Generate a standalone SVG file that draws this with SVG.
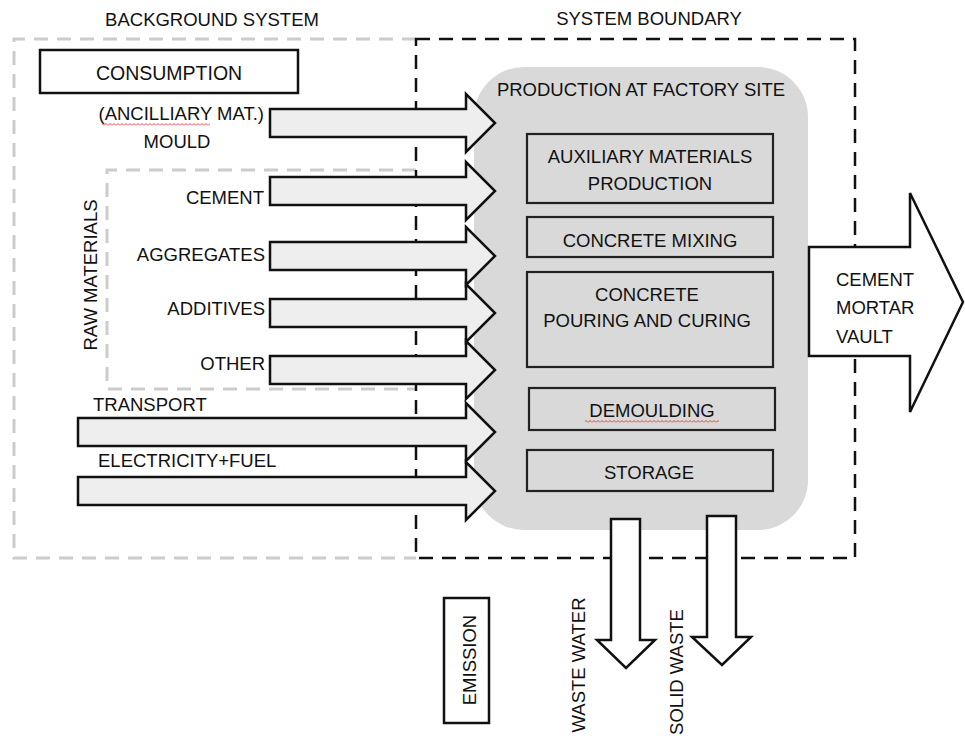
<svg xmlns="http://www.w3.org/2000/svg" width="965" height="736" viewBox="0 0 965 736">
<style>
text{font-family:"Liberation Sans",Arial,sans-serif;font-size:18.5px;fill:#111}
.c{text-anchor:middle}.e{text-anchor:end}
.gd{fill:none;stroke:#cccccc;stroke-width:3;stroke-dasharray:14 9}
.bd{fill:none;stroke:#111;stroke-width:2.5;stroke-dasharray:14 9}
.box{fill:#d9d9d9;stroke:#222;stroke-width:2.2}
.in{fill:#eeeeee;stroke:#111;stroke-width:2.5;stroke-linejoin:miter}
.out{fill:#fff;stroke:#111;stroke-width:2.5}
</style>
<defs>
<pattern id="squig" width="4" height="3" patternUnits="userSpaceOnUse"><path d="M0,2.5 L2,0.5 L4,2.5" stroke="#e03030" fill="none" stroke-width="0.9"/></pattern>
</defs>
<rect width="965" height="736" fill="#fff"/>
<g id="boundaries">
<path class="gd" d="M416,39 H14 V558 H416"/>
<path class="gd" d="M416,170 H107 V389 H416"/>
<rect class="bd" x="416" y="39" width="439" height="519"/>
<text class="c" x="212" y="26">BACKGROUND SYSTEM</text>
<text class="c" x="649" y="25">SYSTEM BOUNDARY</text>
<text class="c" transform="translate(97,275) rotate(-90)">RAW MATERIALS</text>
</g>
<g id="consumption">
<rect x="40" y="50" width="258" height="43" fill="#fff" stroke="#111" stroke-width="2.5"/>
<text class="c" x="169" y="80" style="font-size:19.5px">CONSUMPTION</text>
</g>
<g id="production">
<rect x="474" y="67" width="334" height="463" rx="50" fill="#d9d9d9"/>
<text class="c" x="641" y="96">PRODUCTION AT FACTORY SITE</text>
</g>
<g id="aux">
<rect class="box" x="527" y="134" width="246" height="69"/>
<text class="c" x="650" y="163">AUXILIARY MATERIALS</text>
<text class="c" x="650" y="190">PRODUCTION</text>
</g>
<g id="mixing">
<rect class="box" x="527" y="217" width="246" height="40"/>
<text class="c" x="650" y="247">CONCRETE MIXING</text>
</g>
<g id="pouring">
<rect class="box" x="527" y="272" width="246" height="95"/>
<text class="c" x="647" y="301">CONCRETE</text>
<text class="c" x="647" y="327">POURING AND CURING</text>
</g>
<g id="demoulding">
<rect class="box" x="529" y="388" width="246" height="42"/>
<text class="c" x="652" y="417">DEMOULDING</text>
<rect x="585" y="420" width="134" height="3" fill="url(#squig)"/>
</g>
<g id="storage">
<rect class="box" x="527" y="450" width="246" height="41"/>
<text class="c" x="649" y="479">STORAGE</text>
</g>
<g id="emission">
<rect x="444" y="598" width="45" height="125" fill="#fff" stroke="#111" stroke-width="2.5"/>
<text class="c" transform="translate(476,660) rotate(-90)">EMISSION</text>
</g>
<g id="connectors">
<path class="in" d="M270,109 H466 V94 L495,123 L466,152 V137 H270 Z"/>
<path class="in" d="M270,177 H466 V162 L495,191 L466,220 V205 H270 Z"/>
<path class="in" d="M270,242 H466 V227 L495,256 L466,285 V270 H270 Z"/>
<path class="in" d="M270,299 H466 V284 L495,313 L466,342 V327 H270 Z"/>
<path class="in" d="M270,356 H466 V341 L495,370 L466,399 V384 H270 Z"/>
<path class="in" d="M78,418 H466 V403 L495,432 L466,461 V446 H78 Z"/>
<path class="in" d="M78,477 H466 V462 L495,491 L466,520 V505 H78 Z"/>
<path class="out" d="M809,247 H910 V193 L963,302 L910,412 V356 H809 Z"/>
<path class="out" d="M611,519 V640 H597 L626,668 L655,640 H640 V519 Z"/>
<path class="out" d="M707,516 V637 H692 L722,665 L751,637 H736 V516 Z"/>
</g>
<g id="labels">
<text class="e" x="264" y="120">(ANCILLIARY MAT.)</text>
<rect x="102" y="123" width="108" height="3" fill="url(#squig)"/>
<text class="c" x="177" y="148">MOULD</text>
<text class="e" x="264" y="204">CEMENT</text>
<text class="e" x="265" y="261">AGGREGATES</text>
<text class="e" x="265" y="315">ADDITIVES</text>
<text class="e" x="265" y="370">OTHER</text>
<text x="93" y="411">TRANSPORT</text>
<text x="98" y="467">ELECTRICITY+FUEL</text>
<text x="836" y="286">CEMENT</text>
<text x="836" y="314">MORTAR</text>
<text x="836" y="343">VAULT</text>
<text class="c" transform="translate(585,665) rotate(-90)">WASTE WATER</text>
<text class="c" transform="translate(683,672) rotate(-90)">SOLID WASTE</text>
</g>
</svg>
